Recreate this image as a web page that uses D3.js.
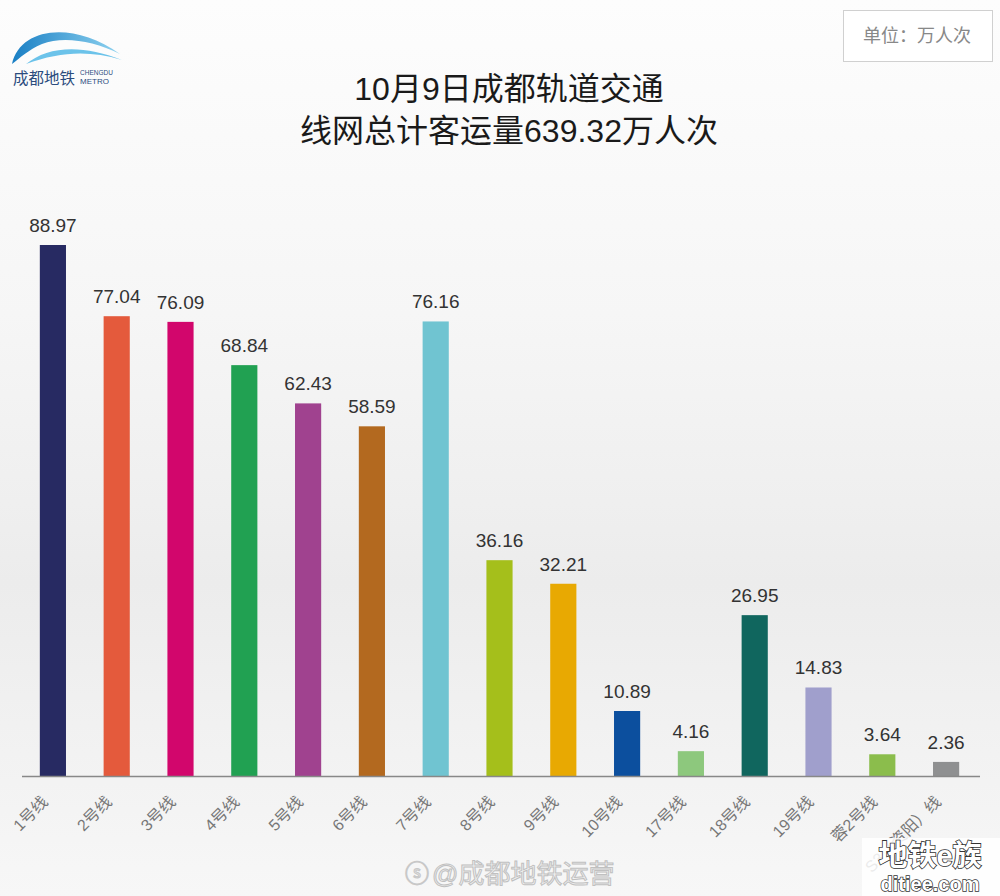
<!DOCTYPE html>
<html><head><meta charset="utf-8">
<script src="https://cdn.jsdelivr.net/npm/d3@7"></script>
<style>
html,body{margin:0;padding:0;background:#fff;}
svg{display:block;font-family:"Liberation Sans","Noto Sans CJK SC",Arial,sans-serif;}
</style></head>
<body>
<svg id="c" width="1000" height="896"></svg>
<script>
const categories = ["1号线","2号线","3号线","4号线","5号线","6号线","7号线","8号线","9号线","10号线","17号线","18号线","19号线","蓉2号线","S3（资阳）线"];
const values = [88.97,77.04,76.09,68.84,62.43,58.59,76.16,36.16,32.21,10.89,4.16,26.95,14.83,3.64,2.36];
const colors = ["#272a62","#e45a3c","#d2066c","#21a152","#a0428f","#b3691f","#70c4d1","#a5bf1b","#e8a902","#0c4f9e","#8dc87d","#10665e","#a09fcc","#8bbd4c","#8f9091"];
const titleLines = ["10月9日成都轨道交通","线网总计客运量639.32万人次"];
const unitText = "单位：万人次";

const svg = d3.select("#c");
const defs = svg.append("defs");
const g = defs.append("linearGradient").attr("id","bg").attr("x1",0).attr("y1",0).attr("x2",0).attr("y2",1);
g.append("stop").attr("offset","0%").attr("stop-color","#fdfdfd");
g.append("stop").attr("offset","35%").attr("stop-color","#f6f6f6");
g.append("stop").attr("offset","65%").attr("stop-color","#ececec");
g.append("stop").attr("offset","100%").attr("stop-color","#f7f7f7");
svg.append("rect").attr("width",1000).attr("height",896).attr("fill","url(#bg)");

// logo
const logo = svg.append("g");
const lg = defs.append("linearGradient").attr("id","lg").attr("x1",0).attr("y1",0).attr("x2",1).attr("y2",0);
lg.append("stop").attr("offset","0%").attr("stop-color","#1a7fc4");
lg.append("stop").attr("offset","100%").attr("stop-color","#8fd3f0");
logo.append("path").attr("d","M12,64 C20,28 72,20 120,54 C92,40 62,36 42,44 C28,50 20,58 12,64 Z").attr("fill","url(#lg)");
logo.append("path").attr("d","M26,64 C48,46 82,44 122,60 C88,50 60,52 26,64 Z").attr("fill","#6cc3ea");
logo.append("text").attr("x",13).attr("y",84).attr("font-size",15.5).attr("fill","#2b4c7e").text("成都地铁");
logo.append("text").attr("x",80).attr("y",75).attr("font-size",6.5).attr("fill","#2b4c7e").text("CHENGDU");
logo.append("text").attr("x",80).attr("y",84).attr("font-size",8).attr("fill","#2b4c7e").text("METRO");

// unit box
svg.append("rect").attr("x",843.5).attr("y",10.5).attr("width",149).attr("height",51).attr("fill","#fff").attr("stroke","#d0d0d0");
svg.append("text").attr("x",917).attr("y",42).attr("text-anchor","middle").attr("font-size",18).attr("fill","#888").text(unitText);

// title
svg.selectAll(".title").data(titleLines).enter().append("text")
  .attr("x",509).attr("y",(d,i)=>100+i*42).attr("text-anchor","middle")
  .attr("font-size",32).attr("fill","#1a1a1a").text(d=>d);

const x = d3.scaleBand().domain(categories).range([21,978]).paddingInner(0.59).paddingOuter(0.295);
const y = d3.scaleLinear().domain([0,88.97]).range([776,245]);

svg.selectAll(".bar").data(values).enter().append("rect")
  .attr("x",(d,i)=>x(categories[i])).attr("width",x.bandwidth())
  .attr("y",d=>y(d)).attr("height",d=>776-y(d)).attr("fill",(d,i)=>colors[i]);

svg.selectAll(".val").data(values).enter().append("text")
  .attr("x",(d,i)=>x(categories[i])+x.bandwidth()/2).attr("y",d=>y(d)-13)
  .attr("text-anchor","middle").attr("font-size",19).attr("fill","#333").text(d=>d.toFixed(2));

const ax = svg.append("g").attr("transform","translate(0,776)")
  .call(d3.axisBottom(x).tickSize(0).tickPadding(0));
ax.select(".domain").attr("d","M22,0.5H980").attr("stroke","#888").attr("stroke-width",1.5);
ax.selectAll("text").attr("font-size",16).attr("fill","#777")
  .attr("font-family","Liberation Sans, Noto Sans CJK SC, sans-serif")
  .attr("text-anchor","end").attr("dy",0)
  .attr("transform","translate(-4,27) rotate(-45)");

// watermarks
const wb = svg.append("g");
wb.append("text").attr("x",405).attr("y",882).attr("font-size",24).attr("fill","#fff").attr("stroke","#c8c8c8").attr("stroke-width",1.2).text("ⓢ");
wb.append("text").attr("x",432).attr("y",883).attr("font-size",26).attr("fill","#f2f2f2").attr("stroke","#c0c0c0").attr("stroke-width",1).text("@成都地铁运营");
const wm = svg.append("g");
wm.append("rect").attr("x",862).attr("y",838).attr("width",138).attr("height",58).attr("fill","#fff").attr("opacity",0.85);
wm.append("text").attr("x",930).attr("y",866).attr("text-anchor","middle").attr("font-size",29).attr("font-weight","bold").attr("fill","#fff").attr("stroke","#333").attr("stroke-width",1.6).attr("paint-order","stroke").text("地铁e族");
wm.append("text").attr("x",930).attr("y",891).attr("text-anchor","middle").attr("font-size",20).attr("font-weight","bold").attr("fill","#fff").attr("stroke","#333").attr("stroke-width",1.5).attr("paint-order","stroke").text("ditiee.com");
</script>
</body></html>
